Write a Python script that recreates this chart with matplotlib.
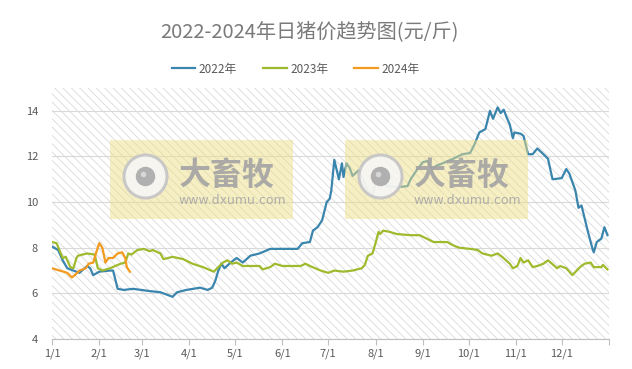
import matplotlib
matplotlib.use("Agg")
import matplotlib.pyplot as plt
from matplotlib.patches import Rectangle
import pandas as pd

plt.rcParams['font.family'] = ['Noto Sans CJK SC', 'DejaVu Sans']
plt.rcParams['hatch.color'] = '#d6d6d6'
plt.rcParams['hatch.linewidth'] = 0.55

# ---------------------------------------------------------------
# Données (prix journalier, yuan / jin)
# ---------------------------------------------------------------
dates_2022 = ["01-01", "01-05", "01-08", "01-11", "01-15", "01-19", "01-24", "01-26", "01-28",
              "02-01", "02-08", "02-10", "02-13", "02-17", "02-23", "03-06", "03-13", "03-21",
              "03-24", "03-30", "04-08", "04-13", "04-16", "04-18", "04-20", "04-22", "04-24",
              "04-28", "05-02", "05-06", "05-11", "05-17", "05-24", "06-01", "06-11", "06-14",
              "06-19", "06-21", "06-24", "06-27", "06-30", "07-02", "07-03", "07-05", "07-08",
              "07-10", "07-11", "07-13", "07-15", "07-17", "07-21", "07-24", "07-27", "07-30",
              "08-01", "08-04", "08-09", "08-15", "08-22", "08-24", "08-28", "09-01", "09-04",
              "09-07", "09-10", "09-14", "09-21", "09-27", "10-02", "10-05", "10-08", "10-12",
              "10-15", "10-17", "10-20", "10-22", "10-24", "10-26", "10-28", "10-30", "10-31",
              "11-04", "11-06", "11-09", "11-12", "11-15", "11-19", "11-22", "11-25", "12-01",
              "12-04", "12-06", "12-10", "12-12", "12-14", "12-16", "12-18", "12-21", "12-22",
              "12-24", "12-27", "12-29", "12-31"]
prix_2022 = [8.05, 7.9, 7.45, 7.1, 7.0, 6.9, 7.2, 7.1, 6.8,
             6.95, 7.0, 7.0, 6.2, 6.15, 6.2, 6.1, 6.05, 5.85,
             6.05, 6.15, 6.25, 6.15, 6.25, 6.55, 7.0, 7.3, 7.1,
             7.35, 7.55, 7.35, 7.65, 7.75, 7.95, 7.95, 7.95, 8.2,
             8.25, 8.75, 8.9, 9.2, 10.0, 10.15, 10.5, 11.85, 11.0,
             11.7, 11.1, 11.7, 11.5, 11.15, 11.4, 10.95, 10.5, 10.3,
             10.8, 10.85, 10.7, 10.65, 10.7, 11.0, 11.4, 11.75, 11.8,
             11.45, 11.6, 11.7, 11.9, 12.1, 12.15, 12.55, 13.05, 13.2,
             14.0, 13.65, 14.15, 13.9, 14.05, 13.7, 13.4, 12.8, 13.05,
             13.0, 12.9, 12.1, 12.1, 12.35, 12.1, 11.9, 11.0, 11.05,
             11.45, 11.25, 10.5, 9.75, 9.85, 9.3, 8.75, 8.0, 7.8,
             8.25, 8.4, 8.9, 8.55]

dates_2023 = ["01-01", "01-04", "01-08", "01-10", "01-13", "01-15", "01-17", "01-18", "01-24",
              "01-29", "01-31", "02-03", "02-08", "02-15", "02-18", "02-20", "02-22", "02-26",
              "03-02", "03-06", "03-08", "03-13", "03-15", "03-21", "03-28", "04-03", "04-10",
              "04-17", "04-20", "04-23", "04-26", "04-29", "05-02", "05-06", "05-17", "05-19",
              "05-24", "05-27", "06-01", "06-13", "06-16", "06-19", "06-26", "07-01", "07-05",
              "07-11", "07-17", "07-23", "07-25", "07-27", "07-30", "08-01", "08-03", "08-04",
              "08-06", "08-10", "08-15", "08-24", "08-30", "09-02", "09-08", "09-17", "09-21",
              "09-25", "10-02", "10-07", "10-10", "10-16", "10-20", "10-23", "10-28", "10-30",
              "11-02", "11-04", "11-06", "11-09", "11-12", "11-15", "11-19", "11-22", "11-28",
              "11-30", "12-04", "12-08", "12-13", "12-16", "12-20", "12-22", "12-27", "12-28",
              "12-31"]
prix_2023 = [8.25, 8.2, 7.55, 7.6, 7.15, 7.1, 7.55, 7.65, 7.75,
             7.7, 7.1, 7.0, 7.1, 7.3, 7.35, 7.75, 7.7, 7.9,
             7.95, 7.85, 7.9, 7.75, 7.5, 7.6, 7.5, 7.3, 7.15,
             6.95, 7.15, 7.35, 7.45, 7.3, 7.35, 7.2, 7.2, 7.05,
             7.15, 7.3, 7.2, 7.2, 7.3, 7.2, 7.0, 6.9, 7.0,
             6.95, 7.0, 7.1, 7.25, 7.65, 7.75, 8.2, 8.7, 8.6,
             8.75, 8.7, 8.6, 8.55, 8.55, 8.45, 8.25, 8.25, 8.1,
             8.0, 7.95, 7.9, 7.75, 7.65, 7.75, 7.6, 7.3, 7.1,
             7.2, 7.55, 7.35, 7.45, 7.15, 7.2, 7.3, 7.45, 7.1,
             7.2, 7.1, 6.8, 7.15, 7.3, 7.35, 7.15, 7.15, 7.25,
             7.05]

dates_2024 = ["01-01", "01-06", "01-11", "01-14", "01-16", "01-19", "01-23", "01-25", "01-28",
              "01-30", "02-01", "02-03", "02-05", "02-07", "02-10", "02-13", "02-16", "02-18",
              "02-19", "02-21"]
prix_2024 = [7.1, 7.0, 6.9, 6.7, 6.8, 7.0, 7.1, 7.3, 7.35,
             7.8, 8.2, 8.0, 7.35, 7.55, 7.55, 7.75, 7.8, 7.55,
             7.15, 6.95]

series = [("2022年", dates_2022, prix_2022, "#3a85ad"),
          ("2023年", dates_2023, prix_2023, "#9fba2d"),
          ("2024年", dates_2024, prix_2024, "#f39a1f")]

mois = ["1/1", "2/1", "3/1", "4/1", "5/1", "6/1", "7/1", "8/1", "9/1", "10/1", "11/1", "12/1"]


def jour(d):
    # année de référence non bissextile pour aligner les trois courbes
    return pd.to_datetime("2023-" + d).dayofyear - 1


###########################
# Figure
###########################
fig = plt.figure(figsize=(6.32, 3.69), dpi=100)
ax = fig.add_axes([0.0823, 0.0813, 0.8813, 0.6802])

ax.add_patch(Rectangle((0, 0), 1, 1, transform=ax.transAxes, facecolor="white",
                       edgecolor="#d6d6d6", hatch="\\\\\\\\", lw=0, zorder=0))

for nom, dates, prix, couleur in series:
    ax.plot([jour(d) for d in dates], prix, color=couleur, lw=1.6, label=nom, zorder=3)

ax.set_xlim(0, 365)
ax.set_ylim(4, 15)
ax.set_yticks([4, 6, 8, 10, 12, 14])
ax.grid(axis="y", color="#d9d9d9", lw=0.8, zorder=1)
ax.set_axisbelow(True)

ticks_x = [jour(m.split("/")[0].zfill(2) + "-01") for m in mois]
ax.set_xticks(ticks_x + [365])
ax.set_xticklabels(mois + [""])
ax.tick_params(axis="x", direction="out", length=4, color="#bfbfbf", labelcolor="#595959",
               labelsize=8, pad=3)
ax.tick_params(axis="y", length=0, labelcolor="#595959", labelsize=8, pad=10)
for s in ["top", "right", "left"]:
    ax.spines[s].set_visible(False)
ax.spines["bottom"].set_color("#bfbfbf")

# filigranes "大畜牧"
for x0, cx, tx in [(38, 61, 83), (192, 215, 237)]:
    ax.add_patch(Rectangle((x0, 9.28), 120, 3.45, facecolor="#efe08a", alpha=0.5,
                           lw=0, zorder=4))
    ax.plot(cx, 11.15, "o", ms=31, mfc="#f6f6f6", mec="#c4c4c4", mew=2.2, zorder=5, alpha=0.9)
    ax.plot(cx, 11.15, "o", ms=14, mfc="#a9a9a9", mec="none", zorder=6, alpha=0.9)
    ax.plot(cx - 1.2, 11.25, "o", ms=4, mfc="#dcdcdc", mec="none", zorder=6, alpha=0.9)
    ax.text(tx, 11.14, "大畜牧", fontsize=23, fontweight="bold", color="#a3a3a3",
            ha="left", va="center", zorder=6, alpha=0.9)
    ax.text(tx, 10.05, "www.dxumu.com", fontsize=9, color="#a8a8a8",
            family="DejaVu Sans", ha="left", va="center", zorder=6, alpha=0.9)

fig.text(0.49, 0.913, "2022-2024年日猪价趋势图(元/斤)", ha="center", va="center",
         fontsize=14.5, color="#7a7a7a")
fig.legend(loc="center", bbox_to_anchor=(0.468, 0.813), ncol=3, frameon=False,
           fontsize=8.5, handlelength=2.0, handletextpad=0.3, columnspacing=2.2,
           labelcolor="#595959")

fig.savefig("out.png", dpi=100)
